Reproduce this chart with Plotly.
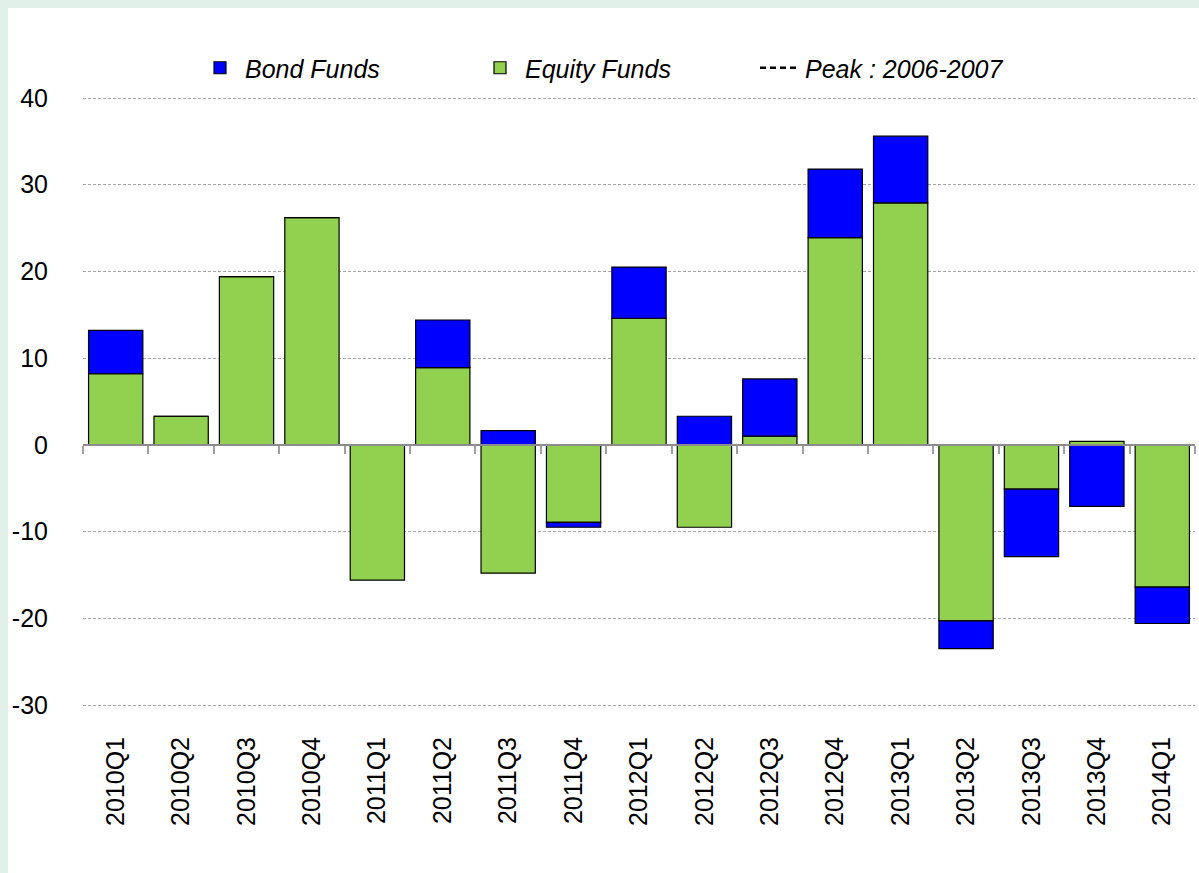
import plotly.graph_objects as go

quarters = ["2010Q1", "2010Q2", "2010Q3", "2010Q4",
            "2011Q1", "2011Q2", "2011Q3", "2011Q4",
            "2012Q1", "2012Q2", "2012Q3", "2012Q4",
            "2013Q1", "2013Q2", "2013Q3", "2013Q4", "2014Q1"]
equity_funds = [8.2, 3.3, 19.4, 26.2,
                -15.6, 8.9, -14.8, -8.95,
                14.6, -9.5, 1.0, 23.9,
                27.9, -20.3, -5.1, 0.4, -16.4]
bond_funds = [5.0, 0.0, 0.0, 0.0,
              0.0, 5.5, 1.65, -0.55,
              5.9, 3.3, 6.6, 7.9,
              7.7, -3.2, -7.8, -7.1, -4.2]
y_tickvals = [-30, -20, -10, 0, 10, 20, 30, 40]
y_ticktext = ["-30", "-20", "-10", "0", "10", "20", "30", "40"]

FONT = "'Liberation Sans Narrow', 'Arial Narrow', 'Liberation Sans', Arial, sans-serif"
W, H = 1199, 873
L, R, T, B = 83, 4, 96, 166
pw, ph = W - L - R, H - T - B
PAD = 2 * 70 / (ph - 4)  # 2 px of padding so edge gridlines are drawn
YMIN, YMAX = -30, 40
y0pos = (0 - YMIN + PAD) / (YMAX - YMIN + 2 * PAD)

fig = go.Figure()
fig.add_trace(go.Bar(
    x=quarters, y=equity_funds, name="Equity Funds", legendrank=2,
    marker=dict(color="#92D050", line=dict(color="#000000", width=1.2)),
))
fig.add_trace(go.Bar(
    x=quarters, y=bond_funds, name="Bond Funds", legendrank=1,
    marker=dict(color="#0000FF", line=dict(color="#000000", width=1.2)),
))
fig.add_trace(go.Scatter(
    x=quarters, y=[None] * len(quarters), name="Peak : 2006-2007",
    mode="lines", line=dict(color="#000000", width=2.5, dash="6px,4px"),
    xaxis="x2", legendrank=3, showlegend=True,
))

# white inner panel over light green page border
fig.add_shape(
    type="rect", xref="paper", yref="paper", layer="below",
    x0=(8 - L) / pw, x1=(W + 2 - L) / pw,
    y0=-(H + 2 - T - ph) / ph, y1=1 + (T - 8) / ph,
    fillcolor="#FFFFFF", line=dict(width=0),
)

fig.update_layout(
    width=W, height=H,
    margin=dict(l=L, r=R, t=T, b=B, pad=0, autoexpand=False),
    paper_bgcolor="#E1F0E8",
    plot_bgcolor="rgba(0,0,0,0)",
    barmode="relative",
    bargap=0.17,
    font=dict(family=FONT, size=25, color="#000000"),
    showlegend=True,
    legend=dict(
        orientation="h", x=(195 - L) / pw, xanchor="left",
        y=1 + 28 / ph, yanchor="middle",
        font=dict(family=FONT, size=25, style="italic"),
        bgcolor="rgba(0,0,0,0)", entrywidth=225, entrywidthmode="pixels",
        itemwidth=40, tracegroupgap=0,
    ),
    xaxis=dict(
        type="category", categoryorder="array", categoryarray=quarters,
        range=[-0.5, len(quarters) - 0.5], automargin=False,
        showgrid=False, zeroline=False, showline=False, ticks="",
        tickangle=-90, ticklabelstandoff=24,
        tickfont=dict(family=FONT, size=25),
    ),
    xaxis2=dict(
        type="category", categoryorder="array", categoryarray=quarters,
        range=[-0.5, len(quarters) - 0.5], automargin=False,
        overlaying="x", anchor="free", position=y0pos, side="bottom",
        showgrid=False, zeroline=False, showticklabels=False,
        showline=True, linecolor="#8C8C8C", linewidth=2,
        ticks="outside", tickson="boundaries", ticklen=8,
        tickcolor="#A0A0A0", tickwidth=1.5,
    ),
    yaxis=dict(
        range=[YMIN - PAD, YMAX + PAD], tickvals=y_tickvals, ticktext=y_ticktext,
        automargin=False,
        showgrid=True, gridcolor="#A6A6A6", gridwidth=1, griddash="3px,2px",
        zeroline=False, showline=False, ticks="",
        ticklabelstandoff=34,
        tickfont=dict(family=FONT, size=25),
    ),
)

fig.write_html(
    "out.html",
    config={"displayModeBar": False},
    post_script="document.body.style.margin='0';document.body.style.overflow='hidden';",
)
